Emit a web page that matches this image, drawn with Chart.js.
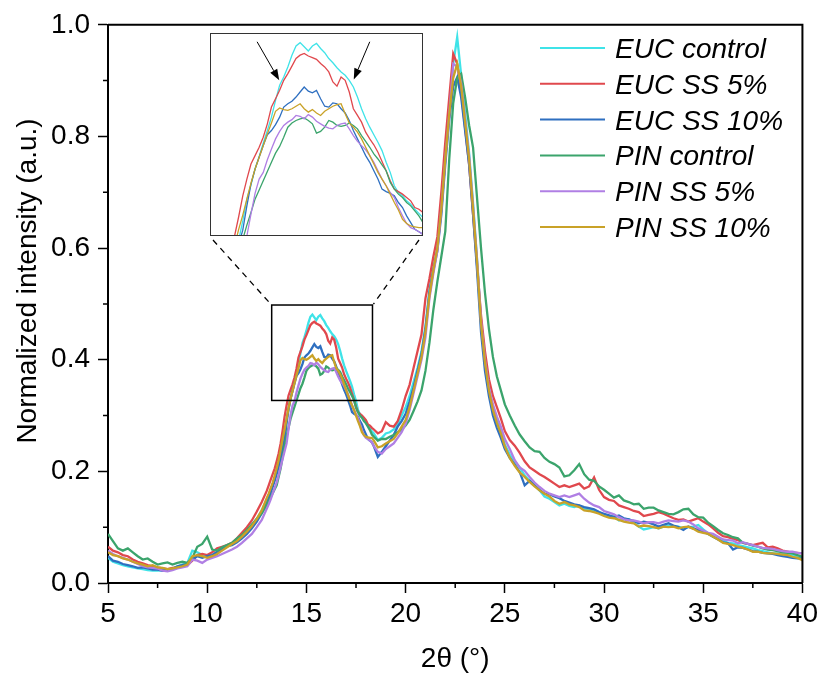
<!doctype html>
<html>

<head>
	<title>Normalized XRD patterns</title>
	<script src="https://cdn.jsdelivr.net/npm/chart.js@4.4.1/dist/chart.umd.min.js"></script>
	<style>
	body {
		margin: 0;
		background: #fff;
	}
	.wrap {
		position: relative;
		width: 822px;
		height: 676px;
	}
	#main {
		position: absolute;
		left: 0;
		top: 0;
	}
	#inset {
		position: absolute;
		left: 210px;
		top: 33px;
	}
	</style>
</head>

<body>
	<div class="wrap">
		<canvas id="main" width="822" height="676"></canvas>
		<canvas id="inset" width="213" height="203"></canvas>
	</div>
	<script>
		// 2theta (deg), shared by every pattern
		var twoTheta = [
			5, 5.25, 5.5, 5.75, 6, 6.25, 6.5, 6.75, 7, 7.25, 7.5, 7.75, 8, 8.25, 8.5, 8.75,
			9, 9.25, 9.5, 9.75, 10, 10.25, 10.5, 10.75, 11, 11.25, 11.5, 11.75, 12, 12.25, 12.5, 12.75,
			13.0, 13.1, 13.2, 13.3, 13.4, 13.5, 13.6, 13.7, 13.8, 13.9,
			14.0, 14.1, 14.2, 14.3, 14.4, 14.5, 14.6, 14.7, 14.8, 14.9,
			15.0, 15.1, 15.2, 15.3, 15.4, 15.5, 15.6, 15.7, 15.8, 15.9,
			16.0, 16.1, 16.2, 16.3, 16.4, 16.5, 16.6, 16.7, 16.8, 16.9,
			17.0, 17.1, 17.2, 17.3, 17.4, 17.5, 17.6, 17.7, 17.8, 17.9,
			18.0, 18.1, 18.2, 18.3,
			18.4, 18.6, 18.8, 19.0, 19.2, 19.4, 19.6, 19.8, 20.0, 20.2,
			20.4, 20.6, 20.8, 21.0, 21.2, 21.4, 21.6, 21.8, 22.0, 22.2,
			22.4, 22.6, 22.8, 23.0, 23.2, 23.4, 23.6, 23.8, 24.0, 24.2,
			24.4, 24.6, 24.8, 25.0,
			25.25, 25.5, 25.75, 26, 26.25, 26.5, 26.75, 27, 27.25, 27.5,
			27.75, 28, 28.25, 28.5, 28.75, 29, 29.25, 29.5, 29.75, 30,
			30.25, 30.5, 30.75, 31, 31.25, 31.5, 31.75, 32, 32.25, 32.5,
			32.75, 33, 33.25, 33.5, 33.75, 34, 34.25, 34.5, 34.75, 35,
			35.25, 35.5, 35.75, 36, 36.25, 36.5, 36.75, 37, 37.25, 37.5,
			37.75, 38, 38.25, 38.5, 38.75, 39, 39.25, 39.5, 39.75, 40
		];

		var eucControl = [
			0.045, 0.038, 0.035, 0.032, 0.030, 0.028, 0.026, 0.025, 0.023, 0.022, 0.022, 0.023, 0.024, 0.026, 0.030, 0.033,
			0.036, 0.058, 0.055, 0.050, 0.048, 0.050, 0.055, 0.060, 0.065, 0.070, 0.076, 0.083, 0.092, 0.103, 0.115, 0.130,
			0.150, 0.158, 0.167, 0.177, 0.188, 0.200, 0.213, 0.228,
			0.245, 0.268, 0.294, 0.311, 0.330, 0.345, 0.361, 0.376, 0.392, 0.412,
			0.430, 0.440, 0.452, 0.466, 0.477, 0.481, 0.476, 0.471, 0.477, 0.480,
			0.474, 0.469, 0.462, 0.457, 0.451, 0.446, 0.442, 0.436, 0.428, 0.416,
			0.402, 0.390, 0.380, 0.371, 0.362, 0.352, 0.338, 0.326, 0.310, 0.302,
			0.298, 0.292, 0.288, 0.282, 0.277, 0.272,
			0.268, 0.256, 0.260, 0.268, 0.270, 0.275, 0.285, 0.300, 0.315, 0.335,
			0.360, 0.385, 0.415, 0.460, 0.525, 0.565, 0.600, 0.670, 0.760, 0.850,
			0.930, 0.978, 0.910, 0.840, 0.770, 0.680, 0.580, 0.470, 0.395, 0.345,
			0.315, 0.292, 0.272, 0.248,
			0.230, 0.217, 0.207, 0.193, 0.184, 0.175, 0.166, 0.155, 0.151, 0.145,
			0.139, 0.142, 0.138, 0.136, 0.139, 0.133, 0.132, 0.130, 0.127, 0.121,
			0.120, 0.120, 0.112, 0.115, 0.114, 0.108, 0.101, 0.096, 0.098, 0.100,
			0.098, 0.101, 0.103, 0.102, 0.101, 0.098, 0.100, 0.101, 0.104, 0.096,
			0.089, 0.083, 0.080, 0.076, 0.072, 0.071, 0.068, 0.066, 0.064, 0.062,
			0.059, 0.057, 0.055, 0.053, 0.053, 0.053, 0.051, 0.050, 0.048, 0.047
		];

		var eucSS5 = [
			0.065, 0.058, 0.055, 0.050, 0.048, 0.042, 0.038, 0.035, 0.032, 0.030, 0.028, 0.026, 0.025, 0.027, 0.028, 0.030,
			0.032, 0.040, 0.050, 0.052, 0.050, 0.055, 0.062, 0.065, 0.068, 0.072, 0.080, 0.090, 0.100, 0.112, 0.128, 0.145,
			0.165, 0.175, 0.185, 0.195, 0.205, 0.218, 0.232, 0.250,
			0.273, 0.298, 0.318, 0.336, 0.346, 0.356, 0.368, 0.384, 0.404, 0.414,
			0.424, 0.436, 0.444, 0.453, 0.462, 0.466, 0.468, 0.465, 0.463, 0.461,
			0.456, 0.452, 0.446, 0.434, 0.429, 0.440, 0.436, 0.422, 0.402, 0.394,
			0.386, 0.374, 0.366, 0.359, 0.350, 0.339, 0.328, 0.316, 0.306, 0.303,
			0.300, 0.296, 0.292, 0.284, 0.282, 0.278,
			0.275, 0.268, 0.272, 0.288, 0.282, 0.280, 0.290, 0.310, 0.335, 0.355,
			0.385, 0.415, 0.445, 0.510, 0.545, 0.585, 0.620, 0.700, 0.790, 0.870,
			0.948, 0.930, 0.880, 0.815, 0.750, 0.660, 0.570, 0.480, 0.415, 0.365,
			0.335, 0.315, 0.295, 0.272,
			0.256, 0.246, 0.233, 0.218, 0.207, 0.201, 0.195, 0.190, 0.184, 0.178,
			0.172, 0.175, 0.172, 0.175, 0.178, 0.169, 0.173, 0.189, 0.167, 0.154,
			0.149, 0.147, 0.139, 0.136, 0.133, 0.129, 0.127, 0.120, 0.122, 0.124,
			0.127, 0.124, 0.120, 0.116, 0.113, 0.114, 0.110, 0.113, 0.116, 0.110,
			0.105, 0.098, 0.090, 0.084, 0.082, 0.079, 0.077, 0.072, 0.070, 0.068,
			0.070, 0.072, 0.064, 0.065, 0.062, 0.058, 0.056, 0.054, 0.054, 0.053
		];

		var eucSS10 = [
			0.048, 0.040, 0.038, 0.034, 0.032, 0.030, 0.027, 0.028, 0.026, 0.024, 0.024, 0.022, 0.024, 0.025, 0.030, 0.032,
			0.034, 0.042, 0.048, 0.045, 0.048, 0.050, 0.056, 0.060, 0.066, 0.068, 0.073, 0.080, 0.088, 0.098, 0.110, 0.125,
			0.143, 0.152, 0.162, 0.172, 0.183, 0.195, 0.208, 0.223,
			0.240, 0.257, 0.286, 0.312, 0.330, 0.344, 0.358, 0.371, 0.376, 0.383,
			0.392, 0.404, 0.408, 0.411, 0.416, 0.422, 0.428, 0.423, 0.421, 0.424,
			0.414, 0.405, 0.404, 0.409, 0.408, 0.402, 0.397, 0.388, 0.376, 0.366,
			0.356, 0.346, 0.338, 0.328, 0.318, 0.306, 0.303, 0.301, 0.298, 0.290,
			0.284, 0.274, 0.266, 0.258, 0.255, 0.252,
			0.245, 0.226, 0.235, 0.245, 0.255, 0.265, 0.280, 0.290, 0.303, 0.325,
			0.350, 0.380, 0.410, 0.455, 0.520, 0.560, 0.595, 0.660, 0.750, 0.830,
			0.890, 0.906, 0.870, 0.810, 0.750, 0.660, 0.560, 0.450, 0.380, 0.335,
			0.300, 0.278, 0.260, 0.240,
			0.224, 0.212, 0.199, 0.175, 0.183, 0.175, 0.167, 0.160, 0.159, 0.155,
			0.152, 0.147, 0.144, 0.141, 0.139, 0.136, 0.134, 0.132, 0.127, 0.124,
			0.121, 0.118, 0.121, 0.116, 0.114, 0.111, 0.107, 0.110, 0.108, 0.105,
			0.101, 0.104, 0.107, 0.103, 0.100, 0.095, 0.101, 0.098, 0.095, 0.092,
			0.088, 0.083, 0.078, 0.073, 0.071, 0.060, 0.064, 0.063, 0.060, 0.057,
			0.056, 0.054, 0.053, 0.052, 0.050, 0.048, 0.047, 0.045, 0.044, 0.044
		];

		var pinControl = [
			0.088, 0.075, 0.062, 0.058, 0.062, 0.055, 0.048, 0.042, 0.044, 0.038, 0.033, 0.035, 0.037, 0.033, 0.036, 0.038,
			0.036, 0.045, 0.065, 0.070, 0.083, 0.060, 0.058, 0.064, 0.068, 0.072, 0.080, 0.086, 0.095, 0.105, 0.115, 0.125,
			0.140, 0.147, 0.154, 0.161, 0.168, 0.175, 0.190, 0.205,
			0.225, 0.246, 0.263, 0.278, 0.294, 0.305, 0.316, 0.327, 0.338, 0.349,
			0.357, 0.368, 0.380, 0.385, 0.388, 0.390, 0.391, 0.388, 0.384, 0.373,
			0.375, 0.380, 0.388, 0.386, 0.382, 0.381, 0.382, 0.385, 0.382, 0.378,
			0.370, 0.363, 0.356, 0.348, 0.342, 0.335, 0.328, 0.314, 0.306, 0.300,
			0.296, 0.290, 0.286, 0.280, 0.274, 0.266,
			0.262, 0.255, 0.258, 0.258, 0.262, 0.265, 0.270, 0.275, 0.282, 0.292,
			0.308, 0.325, 0.345, 0.380, 0.430, 0.490, 0.540, 0.585, 0.630, 0.760,
			0.860, 0.905, 0.912, 0.870, 0.820, 0.780, 0.690, 0.600, 0.520, 0.455,
			0.405, 0.370, 0.345, 0.320,
			0.300, 0.282, 0.266, 0.254, 0.243, 0.236, 0.235, 0.224, 0.217, 0.213,
			0.207, 0.191, 0.193, 0.202, 0.213, 0.195, 0.185, 0.183, 0.173, 0.167,
			0.160, 0.153, 0.157, 0.148, 0.145, 0.141, 0.142, 0.133, 0.135, 0.135,
			0.130, 0.127, 0.124, 0.123, 0.127, 0.132, 0.133, 0.123, 0.118, 0.117,
			0.108, 0.102, 0.095, 0.089, 0.086, 0.082, 0.080, 0.072, 0.070, 0.067,
			0.065, 0.062, 0.060, 0.059, 0.057, 0.055, 0.054, 0.053, 0.050, 0.047
		];

		var pinSS5 = [
			0.058, 0.052, 0.048, 0.045, 0.042, 0.038, 0.034, 0.030, 0.028, 0.027, 0.026, 0.022, 0.021, 0.023, 0.026, 0.028,
			0.030, 0.042, 0.040, 0.036, 0.042, 0.045, 0.048, 0.052, 0.056, 0.060, 0.065, 0.072, 0.080, 0.088, 0.100, 0.113,
			0.133, 0.141, 0.150, 0.160, 0.170, 0.180, 0.193, 0.208,
			0.222, 0.236, 0.250, 0.276, 0.301, 0.318, 0.326, 0.341, 0.354, 0.366,
			0.375, 0.382, 0.386, 0.389, 0.394, 0.393, 0.390, 0.395, 0.392, 0.387,
			0.384, 0.381, 0.379, 0.378, 0.382, 0.384, 0.385, 0.378, 0.370, 0.363,
			0.358, 0.353, 0.346, 0.338, 0.328, 0.318, 0.310, 0.302, 0.296, 0.284,
			0.274, 0.265, 0.260, 0.258, 0.255, 0.252,
			0.245, 0.235, 0.232, 0.240, 0.245, 0.250, 0.260, 0.270, 0.285, 0.310,
			0.340, 0.370, 0.400, 0.440, 0.510, 0.555, 0.595, 0.670, 0.760, 0.840,
			0.930, 0.925, 0.895, 0.830, 0.765, 0.675, 0.580, 0.470, 0.400, 0.350,
			0.320, 0.298, 0.280, 0.258,
			0.240, 0.220, 0.207, 0.201, 0.190, 0.180, 0.172, 0.165, 0.160, 0.157,
			0.154, 0.157, 0.154, 0.157, 0.160, 0.151, 0.144, 0.139, 0.136, 0.129,
			0.126, 0.123, 0.118, 0.114, 0.112, 0.112, 0.110, 0.107, 0.109, 0.109,
			0.107, 0.110, 0.112, 0.111, 0.110, 0.112, 0.110, 0.105, 0.098, 0.094,
			0.090, 0.088, 0.083, 0.078, 0.077, 0.076, 0.071, 0.073, 0.070, 0.068,
			0.065, 0.063, 0.062, 0.061, 0.059, 0.057, 0.056, 0.056, 0.054, 0.053
		];

		var pinSS10 = [
			0.055, 0.050, 0.048, 0.044, 0.042, 0.038, 0.035, 0.033, 0.030, 0.032, 0.028, 0.027, 0.025, 0.026, 0.028, 0.030,
			0.033, 0.048, 0.050, 0.048, 0.045, 0.048, 0.052, 0.058, 0.064, 0.070, 0.075, 0.083, 0.092, 0.102, 0.115, 0.130,
			0.152, 0.160, 0.170, 0.180, 0.192, 0.205, 0.220, 0.238,
			0.258, 0.275, 0.294, 0.313, 0.330, 0.344, 0.358, 0.372, 0.385, 0.399,
			0.403, 0.401, 0.400, 0.402, 0.405, 0.408, 0.402, 0.398, 0.401, 0.397,
			0.394, 0.399, 0.402, 0.405, 0.407, 0.408, 0.396, 0.385, 0.380, 0.374,
			0.366, 0.356, 0.346, 0.336, 0.326, 0.318, 0.310, 0.300, 0.290, 0.281,
			0.270, 0.265, 0.262, 0.261, 0.260, 0.260,
			0.255, 0.243, 0.245, 0.250, 0.254, 0.258, 0.268, 0.280, 0.292, 0.315,
			0.345, 0.375, 0.405, 0.450, 0.515, 0.560, 0.600, 0.670, 0.760, 0.840,
			0.905, 0.930, 0.890, 0.825, 0.760, 0.670, 0.575, 0.465, 0.395, 0.345,
			0.310, 0.287, 0.268, 0.245,
			0.224, 0.210, 0.198, 0.190, 0.181, 0.173, 0.166, 0.160, 0.155, 0.147,
			0.142, 0.145, 0.141, 0.139, 0.136, 0.130, 0.129, 0.127, 0.124, 0.120,
			0.117, 0.116, 0.113, 0.110, 0.108, 0.107, 0.101, 0.103, 0.102, 0.100,
			0.098, 0.101, 0.100, 0.101, 0.098, 0.100, 0.101, 0.097, 0.092, 0.090,
			0.088, 0.083, 0.078, 0.072, 0.070, 0.068, 0.065, 0.063, 0.060, 0.056,
			0.056, 0.054, 0.053, 0.053, 0.052, 0.051, 0.050, 0.047, 0.045, 0.041
		];

		var seriesLabels = ['EUC control', 'EUC SS 5%', 'EUC SS 10%', 'PIN control', 'PIN SS 5%', 'PIN SS 10%'];
		var seriesValues = [eucControl, eucSS5, eucSS10, pinControl, pinSS5, pinSS10];
		var seriesColors = ['#3fe3e8', '#e0484d', '#2e6fc0', '#3ba46c', '#b07fe4', '#c9a228'];

		var xMinorTicks = [7.5, 12.5, 17.5, 22.5, 27.5, 32.5, 37.5];
		var yMinorTicks = [0.1, 0.3, 0.5, 0.7, 0.9];

		// zoomed window marked on the main plot, and the range shown in the inset
		var zoomBox = { x0: 13.25, x1: 18.33, y0: 0.327, y1: 0.498 };
		var insetRange = { x0: 13.1, x1: 18.3, y0: 0.25, y1: 0.4925 };
		var insetArrows = [
			{ from: [14.25, 0.482], to: [14.79, 0.436] },
			{ from: [17.0, 0.482], to: [16.61, 0.437] }
		];

		var FONT = "'Liberation Sans', Arial, sans-serif";
		var INSET = { left: 210, top: 33, width: 213, height: 203 };

		function buildDatasets(lineWidth) {
			return seriesLabels.map(function(label, i) {
				var values = seriesValues[i];
				return {
					label: label,
					data: twoTheta.map(function(x, j) {
						return { x: x, y: values[j] };
					}),
					borderColor: seriesColors[i],
					borderWidth: lineWidth,
					pointRadius: 0,
					tension: 0,
					fill: false,
					order: seriesLabels.length - i
				};
			});
		}

		var mainDecor = {
			id: 'mainDecor',
			afterDraw: function(chart) {
				var ctx = chart.ctx;
				var a = chart.chartArea;
				var xs = chart.scales.x;
				var ys = chart.scales.y;
				ctx.save();
				ctx.strokeStyle = '#000';

				// top and right of the frame
				ctx.lineWidth = 2;
				ctx.beginPath();
				ctx.moveTo(a.left, a.top);
				ctx.lineTo(a.right, a.top);
				ctx.lineTo(a.right, a.bottom);
				ctx.stroke();

				// minor ticks
				ctx.lineWidth = 1.5;
				ctx.beginPath();
				xMinorTicks.forEach(function(v) {
					var px = xs.getPixelForValue(v);
					ctx.moveTo(px, a.bottom);
					ctx.lineTo(px, a.bottom + 5);
				});
				yMinorTicks.forEach(function(v) {
					var py = ys.getPixelForValue(v);
					ctx.moveTo(a.left - 5, py);
					ctx.lineTo(a.left, py);
				});
				ctx.stroke();

				// zoom window
				var bx0 = xs.getPixelForValue(zoomBox.x0);
				var bx1 = xs.getPixelForValue(zoomBox.x1);
				var by0 = ys.getPixelForValue(zoomBox.y1);
				var by1 = ys.getPixelForValue(zoomBox.y0);
				ctx.lineWidth = 1.5;
				ctx.strokeRect(bx0, by0, bx1 - bx0, by1 - by0);

				// dashed connectors to the inset
				var iBottom = INSET.top + INSET.height;
				ctx.lineWidth = 1.3;
				ctx.setLineDash([6, 5]);
				ctx.beginPath();
				ctx.moveTo(INSET.left + 3, iBottom + 4);
				ctx.lineTo(bx0 - 1, by0 - 1);
				ctx.moveTo(INSET.left + INSET.width - 4, iBottom + 4);
				ctx.lineTo(bx1 + 1, by0 - 1);
				ctx.stroke();
				ctx.setLineDash([]);

				// y axis title
				ctx.fillStyle = '#000';
				ctx.font = '28px ' + FONT;
				ctx.textAlign = 'center';
				ctx.textBaseline = 'middle';
				ctx.save();
				ctx.translate(28, 281);
				ctx.rotate(-Math.PI / 2);
				ctx.fillText('Normalized intensity (a.u.)', 0, 0);
				ctx.restore();

				// legend
				ctx.font = 'italic 28px ' + FONT;
				ctx.textAlign = 'left';
				ctx.textBaseline = 'alphabetic';
				chart.data.datasets.forEach(function(ds, i) {
					var y = 48 + i * 35.8;
					ctx.strokeStyle = ds.borderColor;
					ctx.lineWidth = 2;
					ctx.beginPath();
					ctx.moveTo(540, y);
					ctx.lineTo(605, y);
					ctx.stroke();
					ctx.fillText(ds.label, 615, y + 10);
				});
				ctx.restore();
			}
		};

		function drawArrow(ctx, x0, y0, x1, y1) {
			var ang = Math.atan2(y1 - y0, x1 - x0);
			var len = 11;
			var half = 4;
			var bx = x1 - Math.cos(ang) * len;
			var by = y1 - Math.sin(ang) * len;
			ctx.beginPath();
			ctx.moveTo(x0, y0);
			ctx.lineTo(bx, by);
			ctx.stroke();
			ctx.beginPath();
			ctx.moveTo(x1, y1);
			ctx.lineTo(bx + Math.sin(ang) * half, by - Math.cos(ang) * half);
			ctx.lineTo(bx - Math.sin(ang) * half, by + Math.cos(ang) * half);
			ctx.closePath();
			ctx.fill();
		}

		var insetDecor = {
			id: 'insetDecor',
			afterDraw: function(chart) {
				var ctx = chart.ctx;
				var a = chart.chartArea;
				var xs = chart.scales.x;
				var ys = chart.scales.y;
				ctx.save();
				ctx.strokeStyle = '#333';
				ctx.fillStyle = '#000';
				ctx.lineWidth = 1;
				ctx.strokeRect(a.left + 0.5, a.top + 0.5, a.right - a.left - 1, a.bottom - a.top - 1);
				ctx.strokeStyle = '#000';
				insetArrows.forEach(function(ar) {
					drawArrow(ctx,
						xs.getPixelForValue(ar.from[0]), ys.getPixelForValue(ar.from[1]),
						xs.getPixelForValue(ar.to[0]), ys.getPixelForValue(ar.to[1]));
				});
				ctx.restore();
			}
		};

		window.onload = function() {
			new Chart(document.getElementById('main'), {
				type: 'line',
				data: { datasets: buildDatasets(2.3) },
				options: {
					responsive: false,
					animation: false,
					events: [],
					parsing: false,
					layout: { padding: { left: 0, top: 23, right: 18, bottom: 0 } },
					plugins: {
						legend: { display: false },
						tooltip: { enabled: false }
					},
					scales: {
						x: {
							type: 'linear',
							min: 5,
							max: 40,
							ticks: {
								stepSize: 5,
								color: '#000',
								padding: 4,
								maxRotation: 0,
								font: { family: FONT, size: 28 }
							},
							grid: { drawOnChartArea: false, tickLength: 10, tickWidth: 1.5, tickColor: '#000' },
							border: { color: '#000', width: 2 },
							title: {
								display: true,
								text: '2θ (°)',
								color: '#000',
								font: { family: FONT, size: 28 },
								padding: { top: 0, bottom: 0 }
							},
							afterFit: function(scale) {
								scale.height = 93;
							}
						},
						y: {
							type: 'linear',
							min: 0,
							max: 1,
							ticks: {
								stepSize: 0.2,
								color: '#000',
								padding: 8,
								font: { family: FONT, size: 28 },
								callback: function(v) {
									return v.toFixed(1);
								}
							},
							grid: { drawOnChartArea: false, tickLength: 10, tickWidth: 1.5, tickColor: '#000' },
							border: { color: '#000', width: 2 },
							afterFit: function(scale) {
								scale.width = 108;
							}
						}
					}
				},
				plugins: [mainDecor]
			});

			new Chart(document.getElementById('inset'), {
				type: 'line',
				data: { datasets: buildDatasets(1.3) },
				options: {
					responsive: false,
					animation: false,
					events: [],
					parsing: false,
					layout: { padding: 0 },
					plugins: {
						legend: { display: false },
						tooltip: { enabled: false }
					},
					scales: {
						x: { type: 'linear', min: insetRange.x0, max: insetRange.x1, display: false },
						y: { type: 'linear', min: insetRange.y0, max: insetRange.y1, display: false }
					}
				},
				plugins: [insetDecor]
			});
		};
	</script>
</body>

</html>
